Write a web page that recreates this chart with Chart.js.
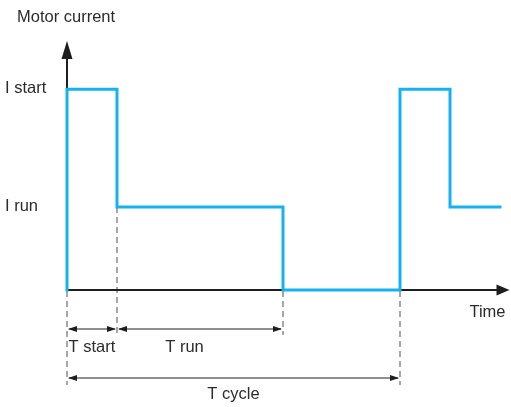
<!DOCTYPE html>
<html>
<head>
<meta charset="utf-8">
<script src="https://cdn.jsdelivr.net/npm/chart.js@4"></script>
<style>
  body { margin: 0; background: #fff; }
  #wrap { width: 511px; height: 407px; position: relative; }
</style>
</head>
<body>
<div id="wrap"><canvas id="motorChart"></canvas></div>
<script>
// Données du cycle (temps de changement, nouveau niveau)
const changeTimes = [0, 0, 1, 4.32, 6.66, 7.66, 8.66];
const currentLevels = [0, 2.42, 1, 0, 2.42, 1, 1];

// Étiquettes de l'axe vertical
const levelValues = [2.42, 1];
const levelLabels = ['I start', 'I run'];

// Intervalles de temps cotés
const spanLabels = ['T start', 'T run', 'T cycle'];
const spanFrom = [0, 1, 0];
const spanTo = [1, 4.32, 6.66];
const spanLabelAt = [0.5, 2.35, 3.33];

const colors = {
    line: '#14b2ee',
    axis: '#1e1e1e',
    dash: '#8a8a8a',
    text: '#2b2b2b'
};
const font = '16.5px "Liberation Sans", Arial, sans-serif';

function arrowHead(ctx, x, y, dir, len, half) {
    // dir: 'up', 'right', 'left'
    ctx.beginPath();
    if (dir === 'up') {
        ctx.moveTo(x, y);
        ctx.lineTo(x - half, y + len);
        ctx.lineTo(x + half, y + len);
    } else if (dir === 'right') {
        ctx.moveTo(x, y);
        ctx.lineTo(x - len, y - half);
        ctx.lineTo(x - len, y + half);
    } else {
        ctx.moveTo(x, y);
        ctx.lineTo(x + len, y - half);
        ctx.lineTo(x + len, y + half);
    }
    ctx.closePath();
    ctx.fill();
}

function dashed(ctx, x, y1, y2) {
    ctx.save();
    ctx.strokeStyle = colors.dash;
    ctx.lineWidth = 1.5;
    ctx.setLineDash([6, 4]);
    ctx.beginPath();
    ctx.moveTo(x, y1);
    ctx.lineTo(x, y2);
    ctx.stroke();
    ctx.restore();
}

function dimension(ctx, x1, x2, y) {
    ctx.save();
    ctx.strokeStyle = colors.axis;
    ctx.fillStyle = colors.axis;
    ctx.lineWidth = 1;
    ctx.beginPath();
    ctx.moveTo(x1 + 2, y);
    ctx.lineTo(x2 - 2, y);
    ctx.stroke();
    arrowHead(ctx, x1 + 1, y, 'left', 9, 3);
    arrowHead(ctx, x2 - 1, y, 'right', 9, 3);
    ctx.restore();
}

// Axes, cotes et textes
const diagramPlugin = {
    id: 'diagram',
    beforeDatasetsDraw(chart) {
        const ctx = chart.ctx;
        const xs = chart.scales.x;
        const ys = chart.scales.y;
        const x0 = xs.getPixelForValue(0);
        const y0 = ys.getPixelForValue(0);
        const area = chart.chartArea;

        // lignes pointillées
        dashed(ctx, x0, y0 + 1, y0 + 95);
        dashed(ctx, xs.getPixelForValue(1), ys.getPixelForValue(1), y0 + 45);
        dashed(ctx, xs.getPixelForValue(4.32), y0 + 1, y0 + 45);
        dashed(ctx, xs.getPixelForValue(6.66), y0 + 1, y0 + 95);

        // axes
        ctx.save();
        ctx.strokeStyle = colors.axis;
        ctx.fillStyle = colors.axis;
        ctx.lineWidth = 2;
        ctx.beginPath();
        ctx.moveTo(x0, y0);
        ctx.lineTo(x0, area.top + 14);
        ctx.moveTo(x0, y0);
        ctx.lineTo(area.right - 10, y0);
        ctx.stroke();
        arrowHead(ctx, x0, area.top, 'up', 18, 5.5);
        arrowHead(ctx, area.right, y0, 'right', 13, 5.5);
        ctx.restore();

        // cotes
        const dimY = [y0 + 39, y0 + 39, y0 + 88];
        for (let i = 0; i < spanLabels.length; i++) {
            dimension(ctx, xs.getPixelForValue(spanFrom[i]), xs.getPixelForValue(spanTo[i]), dimY[i]);
        }

        // textes
        ctx.save();
        ctx.font = font;
        ctx.fillStyle = colors.text;
        ctx.textBaseline = 'middle';
        ctx.textAlign = 'left';
        ctx.fillText('Motor current', 17, 17);
        for (let i = 0; i < levelLabels.length; i++) {
            ctx.fillText(levelLabels[i], 5, ys.getPixelForValue(levelValues[i]) - 1);
        }
        ctx.textAlign = 'right';
        ctx.fillText('Time', area.right - 4, y0 + 22);
        ctx.textAlign = 'center';
        const textY = [y0 + 57, y0 + 57, y0 + 104];
        for (let i = 0; i < spanLabels.length; i++) {
            ctx.fillText(spanLabels[i], xs.getPixelForValue(spanLabelAt[i]), textY[i]);
        }
        ctx.restore();
    }
};

new Chart(document.getElementById('motorChart'), {
    type: 'line',
    data: {
        datasets: [{
            data: changeTimes.map((t, i) => ({ x: t, y: currentLevels[i] })),
            borderColor: colors.line,
            borderWidth: 3,
            stepped: true,
            pointRadius: 0,
            fill: false,
            clip: 10,
            borderCapStyle: 'square',
            borderJoinStyle: 'miter'
        }]
    },
    options: {
        responsive: true,
        maintainAspectRatio: false,
        animation: false,
        layout: { padding: { left: 67, top: 41, right: 1.5, bottom: 117 } },
        plugins: { legend: { display: false }, tooltip: { enabled: false } },
        scales: {
            x: { type: 'linear', min: 0, max: 8.85, display: false },
            y: { min: 0, max: 3, display: false }
        }
    },
    plugins: [diagramPlugin]
});
</script>
</body>
</html>
